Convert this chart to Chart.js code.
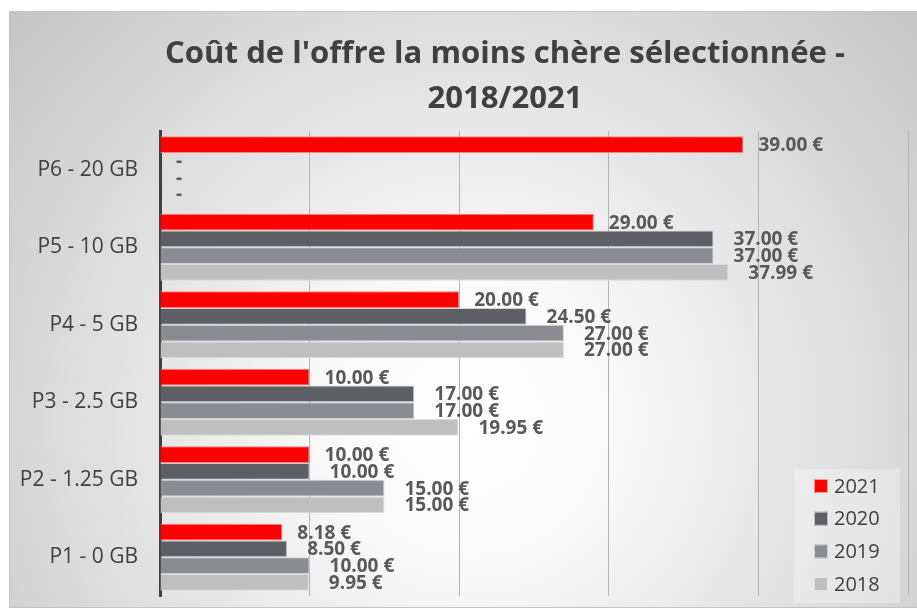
<!DOCTYPE html>
<html>
<head>
<meta charset="utf-8">
<script src="https://cdn.jsdelivr.net/npm/chart.js@4"></script>
<style>
  body { margin: 0; background: #fff; }
  #wrap { position: relative; width: 917px; height: 610px; }
</style>
</head>
<body>
<div id="wrap"><canvas id="chart"></canvas></div>
<script>
// Catégories (de haut en bas)
const categories = ['P6 - 20 GB', 'P5 - 10 GB', 'P4 - 5 GB', 'P3 - 2.5 GB', 'P2 - 1.25 GB', 'P1 - 0 GB'];

// Valeurs par année (null = pas d'offre, affiché "-")
const values2021 = [39.00, 29.00, 20.00, 10.00, 10.00, 8.18];
const values2020 = [null, 37.00, 24.50, 17.00, 10.00, 8.50];
const values2019 = [null, 37.00, 27.00, 17.00, 15.00, 10.00];
const values2018 = [null, 37.99, 27.00, 19.95, 15.00, 9.95];

const seriesNames = ['2021', '2020', '2019', '2018'];
const xTicks = [0, 10, 20, 30, 40, 50];

const titleLines = ["Coût de l'offre la moins chère sélectionnée -", '2018/2021'];

const FONT = '"Open Sans", "DejaVu Sans", sans-serif';

// Fond dégradé + cadre
const bgPlugin = {
    id: 'bg',
    beforeDraw(chart) {
        const ctx = chart.ctx;
        ctx.save();
        ctx.fillStyle = '#fff';
        ctx.fillRect(0, 0, chart.width, chart.height);
        const g = ctx.createRadialGradient(470, 420, 0, 470, 420, 640);
        g.addColorStop(0, '#ffffff');
        g.addColorStop(0.2, '#fbfbfb');
        g.addColorStop(1, '#c2c2c2');
        ctx.fillStyle = g;
        ctx.fillRect(9, 11, chart.width, 596);
        ctx.strokeStyle = '#c4c4c4';
        ctx.lineWidth = 1;
        ctx.strokeRect(9.5, 11.5, chart.width, 596);
        ctx.restore();
    }
};

// Titre (compressé pour imiter Calibri)
const titlePlugin = {
    id: 'titre',
    afterDraw(chart) {
        const ctx = chart.ctx;
        ctx.save();
        ctx.font = 'bold 31px ' + FONT;
        ctx.fillStyle = '#404040';
        ctx.textAlign = 'center';
        ctx.textBaseline = 'alphabetic';
        const w = ctx.measureText(titleLines[0]).width;
        const sx = 680 / w;
        const cx = 505;
        const baselines = [63, 108];
        titleLines.forEach((line, i) => {
            ctx.save();
            ctx.translate(cx, baselines[i]);
            ctx.scale(sx, 1);
            ctx.fillText(line, 0, 0);
            ctx.restore();
        });
        ctx.restore();
    }
};

// Étiquettes de valeurs
const labelPlugin = {
    id: 'valeurs',
    afterDatasetsDraw(chart) {
        const ctx = chart.ctx;
        const x0 = chart.scales.x.getPixelForValue(0);
        ctx.save();
        ctx.font = 'bold 19px ' + FONT;
        ctx.fillStyle = '#595959';
        ctx.textAlign = 'left';
        ctx.textBaseline = 'middle';
        chart.data.datasets.forEach((ds, di) => {
            const meta = chart.getDatasetMeta(di);
            meta.data.forEach((el, i) => {
                const v = ds.data[i];
                if (v === null) {
                    ctx.fillText('-', x0 + 16, el.y);
                } else {
                    const off = di === 0 ? 15 : 20;
                    ctx.fillText(v.toFixed(2) + ' €', el.x + off, el.y + 1);
                }
            });
        });
        ctx.restore();
    }
};

// Légende en bas à droite
const legendPlugin = {
    id: 'legende',
    afterDraw(chart) {
        const ctx = chart.ctx;
        ctx.save();
        ctx.fillStyle = 'rgba(255,255,255,0.3)';
        ctx.fillRect(794, 469, 106, 134);
        ctx.font = '20px ' + FONT;
        ctx.textBaseline = 'middle';
        chart.data.datasets.forEach((ds, i) => {
            const y = 486 + i * 32.7;
            ctx.fillStyle = ds.backgroundColor;
            ctx.fillRect(814, y - 7, 14, 14);
            ctx.strokeStyle = 'rgba(255,255,255,0.6)';
            ctx.lineWidth = 1;
            ctx.strokeRect(814.5, y - 6.5, 13, 13);
            ctx.fillStyle = '#404040';
            ctx.fillText(ds.label, 834, y + 1);
        });
        ctx.restore();
    }
};

const colors = ['#ff0000', '#5e5f64', '#8b8c91', '#bfbfbf'];
const borders = ['#ff8080', '#d0d0d4', '#d0d0d4', '#dcdcdc'];
const allValues = [values2021, values2020, values2019, values2018];

new Chart(document.getElementById('chart'), {
    type: 'bar',
    data: {
        labels: categories,
        datasets: allValues.map((vals, i) => ({
            label: seriesNames[i],
            data: vals,
            backgroundColor: colors[i],
            borderColor: borders[i],
            borderWidth: 1,
            categoryPercentage: 0.865,
            barPercentage: 1
        }))
    },
    options: {
        indexAxis: 'y',
        responsive: true,
        maintainAspectRatio: false,
        animation: false,
        layout: { padding: { top: 131, right: 9, bottom: 14, left: 0 } },
        plugins: {
            legend: { display: false },
            title: { display: false },
            tooltip: { enabled: false }
        },
        scales: {
            x: {
                min: xTicks[0],
                max: xTicks[xTicks.length - 1],
                afterBuildTicks: s => { s.ticks = xTicks.map(v => ({ value: v })); },
                ticks: { display: false },
                grid: { color: '#b4b4b4', lineWidth: 1, drawTicks: false },
                border: { display: false },
                afterFit: s => { s.height = 0; }
            },
            y: {
                grid: { display: false, drawTicks: false },
                border: { display: true, color: '#404040', width: 3 },
                ticks: {
                    color: '#404040',
                    font: { family: FONT, size: 21 },
                    padding: 22
                },
                afterFit: s => {
                    s.width = 160;
                    s.paddingTop = 0;
                    s.paddingBottom = 0;
                }
            }
        }
    },
    plugins: [bgPlugin, titlePlugin, labelPlugin, legendPlugin]
});
</script>
</body>
</html>
